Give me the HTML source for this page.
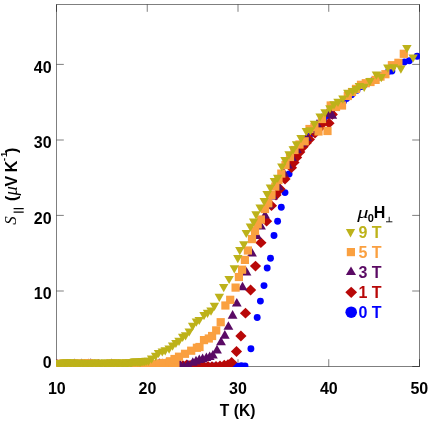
<!DOCTYPE html>
<html><head><meta charset="utf-8"><title>chart</title>
<style>
html,body{margin:0;padding:0;background:#fff;}
body{width:430px;height:421px;position:relative;overflow:hidden;font-family:"Liberation Sans",sans-serif;}
svg{display:block;will-change:transform}
</style></head><body>
<svg width="430" height="421" viewBox="0 0 430 421" style="position:absolute;left:0;top:0"><defs><clipPath id="c"><rect x="56" y="3.5" width="364" height="363.5"/></clipPath></defs><g stroke="#000" stroke-opacity="0.5" stroke-width="1" fill="none"><rect x="56.5" y="4.5" width="363.0" height="362.0"/><path d="M56.5 64.4h7.3"/><path d="M419.5 64.4h-7.3"/><path d="M56.5 140.0h7.3"/><path d="M419.5 140.0h-7.3"/><path d="M56.5 215.4h7.3"/><path d="M419.5 215.4h-7.3"/><path d="M56.5 291.0h7.3"/><path d="M419.5 291.0h-7.3"/><path d="M147.25 366.5v-7.3"/><path d="M147.25 4.5v7.3"/><path d="M238 366.5v-7.3"/><path d="M238 4.5v7.3"/><path d="M328.75 366.5v-7.3"/><path d="M328.75 4.5v7.3"/><path d="M56.5 366.5v-7.3"/><path d="M419.5 366.5v-7.3"/><path d="M56.5 366.5h7.3"/><path d="M419.5 366.5h-7.3"/><path d="M56.5 4.5v7.3"/><path d="M419.5 4.5v7.3"/></g><g clip-path="url(#c)"><g fill="#0000FF"><circle cx="57.4" cy="366.1" r="3.45"/><circle cx="61.1" cy="366.0" r="3.45"/><circle cx="64.5" cy="365.9" r="3.45"/><circle cx="68.3" cy="366.1" r="3.45"/><circle cx="71.9" cy="365.8" r="3.45"/><circle cx="75.6" cy="366.2" r="3.45"/><circle cx="79.2" cy="366.0" r="3.45"/><circle cx="82.8" cy="365.7" r="3.45"/><circle cx="86.3" cy="366.2" r="3.45"/><circle cx="89.9" cy="365.9" r="3.45"/><circle cx="93.7" cy="365.8" r="3.45"/><circle cx="97.0" cy="365.8" r="3.45"/><circle cx="100.8" cy="366.2" r="3.45"/><circle cx="104.6" cy="365.8" r="3.45"/><circle cx="108.2" cy="366.2" r="3.45"/><circle cx="111.5" cy="366.2" r="3.45"/><circle cx="115.0" cy="365.8" r="3.45"/><circle cx="118.8" cy="366.0" r="3.45"/><circle cx="122.4" cy="366.2" r="3.45"/><circle cx="125.9" cy="366.0" r="3.45"/><circle cx="129.4" cy="366.2" r="3.45"/><circle cx="133.1" cy="365.9" r="3.45"/><circle cx="136.4" cy="366.1" r="3.45"/><circle cx="140.2" cy="365.8" r="3.45"/><circle cx="143.7" cy="366.2" r="3.45"/><circle cx="147.6" cy="366.2" r="3.45"/><circle cx="151.4" cy="366.0" r="3.45"/><circle cx="154.5" cy="365.9" r="3.45"/><circle cx="158.0" cy="365.9" r="3.45"/><circle cx="162.0" cy="366.1" r="3.45"/><circle cx="165.4" cy="365.8" r="3.45"/><circle cx="169.1" cy="366.0" r="3.45"/><circle cx="172.4" cy="365.9" r="3.45"/><circle cx="176.1" cy="365.9" r="3.45"/><circle cx="180.0" cy="365.9" r="3.45"/><circle cx="183.6" cy="366.2" r="3.45"/><circle cx="187.3" cy="365.8" r="3.45"/><circle cx="191.0" cy="365.8" r="3.45"/><circle cx="194.2" cy="365.8" r="3.45"/><circle cx="198.0" cy="365.7" r="3.45"/><circle cx="201.5" cy="366.0" r="3.45"/><circle cx="205.1" cy="366.2" r="3.45"/><circle cx="208.6" cy="366.2" r="3.45"/><circle cx="212.6" cy="366.0" r="3.45"/><circle cx="216.0" cy="366.0" r="3.45"/><circle cx="219.3" cy="366.2" r="3.45"/><circle cx="223.2" cy="366.0" r="3.45"/><circle cx="227.0" cy="366.0" r="3.45"/><circle cx="230.5" cy="366.1" r="3.45"/><circle cx="233.9" cy="365.7" r="3.45"/><circle cx="237.2" cy="366.2" r="3.45"/><circle cx="241.3" cy="365.8" r="3.45"/><circle cx="245.0" cy="366.0" r="3.45"/><circle cx="250.9" cy="348.8" r="3.45"/><circle cx="257.2" cy="317.5" r="3.45"/><circle cx="260.4" cy="301.1" r="3.45"/><circle cx="264.0" cy="285.6" r="3.45"/><circle cx="267.2" cy="268.0" r="3.45"/><circle cx="270.5" cy="258.2" r="3.45"/><circle cx="274.0" cy="235.5" r="3.45"/><circle cx="277.6" cy="221.2" r="3.45"/><circle cx="281.3" cy="207.3" r="3.45"/><circle cx="285.0" cy="192.6" r="3.45"/><circle cx="289.1" cy="174.0" r="3.45"/><circle cx="291.5" cy="163.0" r="3.45"/><circle cx="295.5" cy="155.0" r="3.45"/><circle cx="299.5" cy="148.5" r="3.45"/><circle cx="303.5" cy="143.0" r="3.45"/><circle cx="307.5" cy="138.0" r="3.45"/><circle cx="311.5" cy="133.5" r="3.45"/><circle cx="315.0" cy="129.5" r="3.45"/><circle cx="319.3" cy="126.0" r="3.45"/><circle cx="323.5" cy="119.5" r="3.45"/><circle cx="327.5" cy="115.5" r="3.45"/><circle cx="331.5" cy="111.5" r="3.45"/><circle cx="335.5" cy="107.5" r="3.45"/><circle cx="339.5" cy="104.5" r="3.45"/><circle cx="343.5" cy="101.5" r="3.45"/><circle cx="346.6" cy="98.6" r="3.45"/><circle cx="351.6" cy="94.8" r="3.45"/><circle cx="357.0" cy="90.2" r="3.45"/><circle cx="361.5" cy="86.5" r="3.45"/><circle cx="365.3" cy="84.3" r="3.45"/><circle cx="369.2" cy="82.3" r="3.45"/><circle cx="373.2" cy="80.5" r="3.45"/><circle cx="377.0" cy="78.0" r="3.45"/><circle cx="381.0" cy="76.0" r="3.45"/><circle cx="385.0" cy="74.0" r="3.45"/><circle cx="388.5" cy="71.5" r="3.45"/><circle cx="391.9" cy="71.0" r="3.45"/><circle cx="404.4" cy="62.0" r="3.45"/><circle cx="409.3" cy="60.8" r="3.45"/><circle cx="417.1" cy="56.3" r="3.45"/></g>
<g fill="#B80808"><path d="M52.2 366.4L57.8 361.0L63.4 366.4L57.8 371.8z"/><path d="M55.6 366.1L61.2 360.7L66.8 366.1L61.2 371.5z"/><path d="M59.7 365.6L65.3 360.2L70.9 365.6L65.3 371.0z"/><path d="M63.3 364.8L68.9 359.4L74.5 364.8L68.9 370.2z"/><path d="M67.2 366.3L72.8 360.9L78.4 366.3L72.8 371.7z"/><path d="M70.7 365.3L76.3 359.9L81.9 365.3L76.3 370.7z"/><path d="M75.1 365.7L80.7 360.3L86.3 365.7L80.7 371.1z"/><path d="M78.7 364.9L84.3 359.5L89.9 364.9L84.3 370.3z"/><path d="M82.0 365.1L87.6 359.7L93.2 365.1L87.6 370.5z"/><path d="M86.1 365.2L91.7 359.8L97.3 365.2L91.7 370.6z"/><path d="M90.3 365.3L95.9 359.9L101.5 365.3L95.9 370.7z"/><path d="M93.3 364.6L98.9 359.2L104.5 364.6L98.9 370.0z"/><path d="M97.3 365.8L102.9 360.4L108.5 365.8L102.9 371.2z"/><path d="M101.5 364.9L107.1 359.5L112.7 364.9L107.1 370.3z"/><path d="M104.7 365.8L110.3 360.4L115.9 365.8L110.3 371.2z"/><path d="M109.1 365.8L114.7 360.4L120.3 365.8L114.7 371.2z"/><path d="M112.8 366.0L118.4 360.6L124.0 366.0L118.4 371.4z"/><path d="M116.7 365.2L122.3 359.8L127.9 365.2L122.3 370.6z"/><path d="M120.3 365.2L125.9 359.8L131.5 365.2L125.9 370.6z"/><path d="M124.5 366.1L130.1 360.7L135.7 366.1L130.1 371.5z"/><path d="M127.8 365.4L133.4 360.0L139.0 365.4L133.4 370.8z"/><path d="M131.8 364.9L137.4 359.5L143.0 364.9L137.4 370.3z"/><path d="M135.1 366.4L140.7 361.0L146.3 366.4L140.7 371.8z"/><path d="M139.3 364.7L144.9 359.3L150.5 364.7L144.9 370.1z"/><path d="M143.0 366.4L148.6 361.0L154.2 366.4L148.6 371.8z"/><path d="M147.3 365.3L152.9 359.9L158.5 365.3L152.9 370.7z"/><path d="M151.1 365.4L156.7 360.0L162.3 365.4L156.7 370.8z"/><path d="M154.2 366.6L159.8 361.2L165.4 366.6L159.8 372.0z"/><path d="M157.9 365.6L163.5 360.2L169.1 365.6L163.5 371.0z"/><path d="M161.8 366.1L167.4 360.7L173.0 366.1L167.4 371.5z"/><path d="M165.7 365.5L171.3 360.1L176.9 365.5L171.3 370.9z"/><path d="M169.9 366.6L175.5 361.2L181.1 366.6L175.5 372.0z"/><path d="M173.5 366.2L179.1 360.8L184.7 366.2L179.1 371.6z"/><path d="M177.3 365.7L182.9 360.3L188.5 365.7L182.9 371.1z"/><path d="M181.1 364.9L186.7 359.5L192.3 364.9L186.7 370.3z"/><path d="M184.5 365.5L190.1 360.1L195.7 365.5L190.1 370.9z"/><path d="M188.6 365.8L194.2 360.4L199.8 365.8L194.2 371.2z"/><path d="M194.4 366.2L200.0 360.8L205.6 366.2L200.0 371.6z"/><path d="M198.4 366.6L204.0 361.2L209.6 366.6L204.0 372.0z"/><path d="M202.4 366.4L208.0 361.0L213.6 366.4L208.0 371.8z"/><path d="M206.4 366.6L212.0 361.2L217.6 366.6L212.0 372.0z"/><path d="M210.4 366.4L216.0 361.0L221.6 366.4L216.0 371.8z"/><path d="M214.4 366.0L220.0 360.6L225.6 366.0L220.0 371.4z"/><path d="M218.7 365.2L224.3 359.8L229.9 365.2L224.3 370.6z"/><path d="M222.4 364.6L228.0 359.2L233.6 364.6L228.0 370.0z"/><path d="M226.0 362.5L231.6 357.1L237.2 362.5L231.6 367.9z"/><path d="M230.9 351.5L236.5 346.1L242.1 351.5L236.5 356.9z"/><path d="M235.3 336.0L240.9 330.6L246.5 336.0L240.9 341.4z"/><path d="M239.9 313.2L245.5 307.8L251.1 313.2L245.5 318.6z"/><path d="M245.0 290.0L250.6 284.6L256.2 290.0L250.6 295.4z"/><path d="M249.9 266.1L255.5 260.7L261.1 266.1L255.5 271.5z"/><path d="M255.3 242.7L260.9 237.3L266.5 242.7L260.9 248.1z"/><path d="M261.0 221.2L266.6 215.8L272.2 221.2L266.6 226.6z"/><path d="M265.9 205.7L271.5 200.3L277.1 205.7L271.5 211.1z"/><path d="M270.4 195.0L276.0 189.6L281.6 195.0L276.0 200.4z"/><path d="M274.4 189.0L280.0 183.6L285.6 189.0L280.0 194.4z"/><path d="M279.4 179.0L285.0 173.6L290.6 179.0L285.0 184.4z"/><path d="M285.9 167.7L291.5 162.3L297.1 167.7L291.5 173.1z"/><path d="M288.4 162.4L294.0 157.0L299.6 162.4L294.0 167.8z"/><path d="M291.0 157.4L296.6 152.0L302.2 157.4L296.6 162.8z"/><path d="M294.2 152.0L299.8 146.6L305.4 152.0L299.8 157.4z"/><path d="M297.4 146.8L303.0 141.4L308.6 146.8L303.0 152.2z"/><path d="M300.6 143.0L306.2 137.6L311.8 143.0L306.2 148.4z"/><path d="M303.8 139.4L309.4 134.0L315.0 139.4L309.4 144.8z"/><path d="M309.4 133.0L315.0 127.6L320.6 133.0L315.0 138.4z"/><path d="M313.4 128.5L319.0 123.1L324.6 128.5L319.0 133.9z"/><path d="M317.0 123.6L322.6 118.2L328.2 123.6L322.6 129.0z"/><path d="M323.4 123.2L329.0 117.8L334.6 123.2L329.0 128.6z"/><path d="M326.7 114.4L332.3 109.0L337.9 114.4L332.3 119.8z"/></g>
<g fill="#5A0A64"><path d="M52.1 367.3h9.8L57.0 358.7z"/><path d="M56.1 368.5h9.8L61.0 359.9z"/><path d="M59.5 368.4h9.8L64.4 359.8z"/><path d="M62.5 367.7h9.8L67.4 359.1z"/><path d="M66.1 367.8h9.8L71.0 359.2z"/><path d="M69.4 367.0h9.8L74.3 358.4z"/><path d="M72.7 368.2h9.8L77.6 359.6z"/><path d="M76.4 367.1h9.8L81.3 358.5z"/><path d="M79.2 367.8h9.8L84.1 359.2z"/><path d="M83.2 367.0h9.8L88.1 358.4z"/><path d="M85.9 366.9h9.8L90.8 358.3z"/><path d="M90.0 367.9h9.8L94.9 359.3z"/><path d="M93.2 367.7h9.8L98.1 359.1z"/><path d="M96.5 368.0h9.8L101.4 359.4z"/><path d="M100.0 368.2h9.8L104.9 359.6z"/><path d="M103.3 368.6h9.8L108.2 360.0z"/><path d="M106.9 367.0h9.8L111.8 358.4z"/><path d="M109.8 367.9h9.8L114.7 359.3z"/><path d="M113.5 367.8h9.8L118.4 359.2z"/><path d="M117.2 368.0h9.8L122.1 359.4z"/><path d="M120.6 367.8h9.8L125.5 359.2z"/><path d="M123.5 367.8h9.8L128.4 359.2z"/><path d="M126.9 368.4h9.8L131.8 359.8z"/><path d="M130.8 367.6h9.8L135.7 359.0z"/><path d="M133.8 367.8h9.8L138.7 359.2z"/><path d="M136.9 368.0h9.8L141.8 359.4z"/><path d="M140.9 367.0h9.8L145.8 358.4z"/><path d="M144.0 367.6h9.8L148.9 359.0z"/><path d="M147.7 367.0h9.8L152.6 358.4z"/><path d="M150.9 367.0h9.8L155.8 358.4z"/><path d="M154.3 366.8h9.8L159.2 358.2z"/><path d="M157.6 367.2h9.8L162.5 358.6z"/><path d="M160.9 367.2h9.8L165.8 358.6z"/><path d="M164.8 367.7h9.8L169.7 359.1z"/><path d="M168.0 367.8h9.8L172.9 359.2z"/><path d="M171.5 368.3h9.8L176.4 359.7z"/><path d="M175.0 367.7h9.8L179.9 359.1z"/><path d="M179.0 369.5h9.8L183.9 360.9z"/><path d="M183.0 368.1h9.8L187.9 359.5z"/><path d="M187.9 365.8h9.8L192.8 357.2z"/><path d="M191.1 364.4h9.8L196.0 355.8z"/><path d="M194.4 363.1h9.8L199.3 354.5z"/><path d="M197.7 362.2h9.8L202.6 353.6z"/><path d="M201.5 361.1h9.8L206.4 352.5z"/><path d="M204.8 360.1h9.8L209.7 351.5z"/><path d="M208.0 358.5h9.8L212.9 349.9z"/><path d="M212.1 353.4h9.8L217.0 344.8z"/><path d="M216.1 345.3h9.8L221.0 336.7z"/><path d="M219.9 338.7h9.8L224.8 330.1z"/><path d="M223.5 329.8h9.8L228.4 321.2z"/><path d="M227.7 318.7h9.8L232.6 310.1z"/><path d="M231.9 306.5h9.8L236.8 297.9z"/><path d="M237.6 290.3h9.8L242.5 281.7z"/><path d="M241.6 275.6h9.8L246.5 267.0z"/><path d="M247.1 256.5h9.8L252.0 247.9z"/><path d="M252.0 239.0h9.8L256.9 230.4z"/><path d="M256.1 229.5h9.8L261.0 220.9z"/><path d="M260.1 218.5h9.8L265.0 209.9z"/><path d="M264.1 208.5h9.8L269.0 199.9z"/><path d="M268.1 199.5h9.8L273.0 190.9z"/><path d="M274.0 190.1h9.8L278.9 181.5z"/><path d="M279.1 176.5h9.8L284.0 167.9z"/><path d="M283.1 168.5h9.8L288.0 159.9z"/><path d="M287.1 161.0h9.8L292.0 152.4z"/><path d="M292.1 153.0h9.8L297.0 144.4z"/><path d="M297.1 146.5h9.8L302.0 137.9z"/><path d="M302.1 141.0h9.8L307.0 132.4z"/><path d="M307.1 133.5h9.8L312.0 124.9z"/><path d="M312.1 127.5h9.8L317.0 118.9z"/><path d="M317.1 121.5h9.8L322.0 112.9z"/><path d="M322.1 117.0h9.8L327.0 108.4z"/><path d="M327.4 118.7h9.8L332.3 110.1z"/></g>
<g fill="#FAA040"><rect x="53.7" y="359.7" width="8.2" height="8.2"/><rect x="56.4" y="360.1" width="8.2" height="8.2"/><rect x="59.4" y="359.4" width="8.2" height="8.2"/><rect x="62.6" y="359.6" width="8.2" height="8.2"/><rect x="65.8" y="360.3" width="8.2" height="8.2"/><rect x="68.6" y="359.4" width="8.2" height="8.2"/><rect x="72.3" y="359.5" width="8.2" height="8.2"/><rect x="75.1" y="359.5" width="8.2" height="8.2"/><rect x="78.4" y="359.9" width="8.2" height="8.2"/><rect x="81.1" y="359.2" width="8.2" height="8.2"/><rect x="84.8" y="359.2" width="8.2" height="8.2"/><rect x="87.7" y="359.8" width="8.2" height="8.2"/><rect x="90.5" y="359.4" width="8.2" height="8.2"/><rect x="94.1" y="360.2" width="8.2" height="8.2"/><rect x="97.0" y="360.3" width="8.2" height="8.2"/><rect x="100.2" y="360.0" width="8.2" height="8.2"/><rect x="102.6" y="360.2" width="8.2" height="8.2"/><rect x="105.7" y="359.7" width="8.2" height="8.2"/><rect x="109.4" y="359.3" width="8.2" height="8.2"/><rect x="112.1" y="359.8" width="8.2" height="8.2"/><rect x="115.4" y="359.7" width="8.2" height="8.2"/><rect x="118.2" y="360.0" width="8.2" height="8.2"/><rect x="122.0" y="359.4" width="8.2" height="8.2"/><rect x="124.7" y="359.5" width="8.2" height="8.2"/><rect x="128.1" y="360.3" width="8.2" height="8.2"/><rect x="130.6" y="359.6" width="8.2" height="8.2"/><rect x="134.0" y="359.8" width="8.2" height="8.2"/><rect x="136.7" y="360.5" width="8.2" height="8.2"/><rect x="140.5" y="359.6" width="8.2" height="8.2"/><rect x="143.3" y="359.4" width="8.2" height="8.2"/><rect x="146.1" y="360.2" width="8.2" height="8.2"/><rect x="149.2" y="360.0" width="8.2" height="8.2"/><rect x="152.6" y="360.1" width="8.2" height="8.2"/><rect x="155.4" y="359.3" width="8.2" height="8.2"/><rect x="158.5" y="359.9" width="8.2" height="8.2"/><rect x="161.8" y="359.4" width="8.2" height="8.2"/><rect x="165.0" y="359.8" width="8.2" height="8.2"/><rect x="168.2" y="360.6" width="8.2" height="8.2"/><rect x="171.3" y="359.8" width="8.2" height="8.2"/><rect x="159.9" y="358.9" width="8.2" height="8.2"/><rect x="165.9" y="357.2" width="8.2" height="8.2"/><rect x="170.4" y="354.9" width="8.2" height="8.2"/><rect x="174.9" y="352.6" width="8.2" height="8.2"/><rect x="180.9" y="349.7" width="8.2" height="8.2"/><rect x="187.1" y="346.6" width="8.2" height="8.2"/><rect x="192.8" y="343.7" width="8.2" height="8.2"/><rect x="195.4" y="342.9" width="8.2" height="8.2"/><rect x="199.9" y="336.0" width="8.2" height="8.2"/><rect x="204.7" y="334.4" width="8.2" height="8.2"/><rect x="208.0" y="331.9" width="8.2" height="8.2"/><rect x="212.1" y="326.3" width="8.2" height="8.2"/><rect x="216.6" y="318.1" width="8.2" height="8.2"/><rect x="221.3" y="301.4" width="8.2" height="8.2"/><rect x="226.1" y="295.7" width="8.2" height="8.2"/><rect x="231.5" y="283.5" width="8.2" height="8.2"/><rect x="234.8" y="272.9" width="8.2" height="8.2"/><rect x="238.0" y="265.6" width="8.2" height="8.2"/><rect x="240.8" y="255.8" width="8.2" height="8.2"/><rect x="243.8" y="246.4" width="8.2" height="8.2"/><rect x="247.9" y="235.0" width="8.2" height="8.2"/><rect x="250.9" y="226.9" width="8.2" height="8.2"/><rect x="253.6" y="220.3" width="8.2" height="8.2"/><rect x="256.8" y="215.4" width="8.2" height="8.2"/><rect x="260.9" y="204.9" width="8.2" height="8.2"/><rect x="264.2" y="199.2" width="8.2" height="8.2"/><rect x="267.4" y="190.9" width="8.2" height="8.2"/><rect x="271.2" y="182.5" width="8.2" height="8.2"/><rect x="274.4" y="175.9" width="8.2" height="8.2"/><rect x="277.2" y="169.5" width="8.2" height="8.2"/><rect x="281.4" y="160.9" width="8.2" height="8.2"/><rect x="285.9" y="152.9" width="8.2" height="8.2"/><rect x="290.4" y="145.9" width="8.2" height="8.2"/><rect x="295.4" y="140.4" width="8.2" height="8.2"/><rect x="300.6" y="137.2" width="8.2" height="8.2"/><rect x="305.4" y="124.9" width="8.2" height="8.2"/><rect x="310.3" y="122.9" width="8.2" height="8.2"/><rect x="314.4" y="127.4" width="8.2" height="8.2"/><rect x="323.4" y="126.9" width="8.2" height="8.2"/><rect x="317.9" y="114.9" width="8.2" height="8.2"/><rect x="326.6" y="101.4" width="8.2" height="8.2"/><rect x="331.9" y="102.9" width="8.2" height="8.2"/><rect x="337.9" y="101.4" width="8.2" height="8.2"/><rect x="343.7" y="91.9" width="8.2" height="8.2"/><rect x="347.9" y="87.9" width="8.2" height="8.2"/><rect x="351.9" y="84.8" width="8.2" height="8.2"/><rect x="356.9" y="80.7" width="8.2" height="8.2"/><rect x="361.7" y="79.1" width="8.2" height="8.2"/><rect x="366.4" y="77.9" width="8.2" height="8.2"/><rect x="371.5" y="75.8" width="8.2" height="8.2"/><rect x="376.4" y="72.5" width="8.2" height="8.2"/><rect x="381.3" y="70.1" width="8.2" height="8.2"/><rect x="387.8" y="61.1" width="8.2" height="8.2"/><rect x="394.3" y="58.7" width="8.2" height="8.2"/><rect x="399.7" y="49.7" width="8.2" height="8.2"/></g>
<g fill="#BDB21A"><path d="M52.8 359.9h9.4L57.5 368.1z"/><path d="M54.2 360.0h9.4L58.9 368.2z"/><path d="M55.3 360.0h9.4L60.0 368.2z"/><path d="M56.7 360.0h9.4L61.4 368.2z"/><path d="M58.2 359.8h9.4L62.9 368.0z"/><path d="M59.5 359.8h9.4L64.2 368.0z"/><path d="M60.5 359.6h9.4L65.2 367.8z"/><path d="M61.8 359.6h9.4L66.5 367.8z"/><path d="M63.0 359.7h9.4L67.7 367.9z"/><path d="M64.5 359.7h9.4L69.2 367.9z"/><path d="M65.6 359.6h9.4L70.3 367.8z"/><path d="M67.1 359.7h9.4L71.8 367.9z"/><path d="M68.5 359.8h9.4L73.2 368.0z"/><path d="M69.6 359.7h9.4L74.3 367.9z"/><path d="M71.1 360.0h9.4L75.8 368.2z"/><path d="M72.3 359.9h9.4L77.0 368.1z"/><path d="M73.4 359.8h9.4L78.1 368.0z"/><path d="M74.9 359.9h9.4L79.6 368.1z"/><path d="M76.1 359.7h9.4L80.8 367.9z"/><path d="M77.5 360.0h9.4L82.2 368.2z"/><path d="M78.7 359.9h9.4L83.4 368.1z"/><path d="M80.2 359.9h9.4L84.9 368.1z"/><path d="M81.4 359.8h9.4L86.1 368.0z"/><path d="M82.6 359.9h9.4L87.3 368.1z"/><path d="M84.0 359.9h9.4L88.7 368.1z"/><path d="M85.4 359.9h9.4L90.1 368.1z"/><path d="M86.5 360.0h9.4L91.2 368.2z"/><path d="M87.8 359.9h9.4L92.5 368.1z"/><path d="M89.2 359.7h9.4L93.9 367.9z"/><path d="M90.7 359.8h9.4L95.4 368.0z"/><path d="M92.0 359.7h9.4L96.7 367.9z"/><path d="M93.2 359.7h9.4L97.9 367.9z"/><path d="M94.6 359.9h9.4L99.3 368.1z"/><path d="M95.8 359.9h9.4L100.5 368.1z"/><path d="M97.0 360.0h9.4L101.7 368.2z"/><path d="M98.1 359.9h9.4L102.8 368.1z"/><path d="M99.7 359.8h9.4L104.4 368.0z"/><path d="M100.9 359.6h9.4L105.6 367.8z"/><path d="M102.1 359.8h9.4L106.8 368.0z"/><path d="M103.4 360.0h9.4L108.1 368.2z"/><path d="M104.8 359.9h9.4L109.5 368.1z"/><path d="M106.1 359.8h9.4L110.8 368.0z"/><path d="M107.3 359.8h9.4L112.0 368.0z"/><path d="M108.6 359.7h9.4L113.3 367.9z"/><path d="M110.0 359.7h9.4L114.7 367.9z"/><path d="M111.4 359.6h9.4L116.1 367.8z"/><path d="M112.6 360.0h9.4L117.3 368.2z"/><path d="M113.8 359.9h9.4L118.5 368.1z"/><path d="M115.1 359.7h9.4L119.8 367.9z"/><path d="M116.5 359.8h9.4L121.2 368.0z"/><path d="M117.7 359.6h9.4L122.4 367.8z"/><path d="M119.0 359.7h9.4L123.7 367.9z"/><path d="M120.4 359.9h9.4L125.1 368.1z"/><path d="M121.5 359.9h9.4L126.2 368.1z"/><path d="M123.0 359.8h9.4L127.7 368.0z"/><path d="M124.2 359.6h9.4L128.9 367.8z"/><path d="M125.7 359.5h9.4L130.4 367.7z"/><path d="M127.0 359.4h9.4L131.7 367.6z"/><path d="M128.3 358.9h9.4L133.0 367.1z"/><path d="M129.6 358.6h9.4L134.3 366.8z"/><path d="M130.7 358.6h9.4L135.4 366.8z"/><path d="M132.2 358.6h9.4L136.9 366.8z"/><path d="M133.3 358.9h9.4L138.0 367.1z"/><path d="M134.7 358.7h9.4L139.4 366.9z"/><path d="M135.9 358.7h9.4L140.6 366.9z"/><path d="M137.3 358.2h9.4L142.0 366.4z"/><path d="M138.4 358.1h9.4L143.1 366.3z"/><path d="M139.8 358.0h9.4L144.5 366.2z"/><path d="M141.4 357.8h9.4L146.1 366.0z"/><path d="M143.7 357.8h9.4L148.4 366.0z"/><path d="M146.9 355.6h9.4L151.6 363.8z"/><path d="M150.9 352.8h9.4L155.6 361.0z"/><path d="M153.8 349.9h9.4L158.5 358.1z"/><path d="M157.6 348.4h9.4L162.3 356.6z"/><path d="M160.5 347.3h9.4L165.2 355.5z"/><path d="M164.4 345.6h9.4L169.1 353.8z"/><path d="M167.9 342.6h9.4L172.6 350.8z"/><path d="M171.2 339.9h9.4L175.9 348.1z"/><path d="M174.3 337.8h9.4L179.0 346.0z"/><path d="M178.0 333.7h9.4L182.7 341.9z"/><path d="M180.9 332.3h9.4L185.6 340.5z"/><path d="M184.5 328.4h9.4L189.2 336.6z"/><path d="M187.9 322.7h9.4L192.6 330.9z"/><path d="M191.7 318.5h9.4L196.4 326.7z"/><path d="M194.5 316.9h9.4L199.2 325.1z"/><path d="M199.3 312.0h9.4L204.0 320.2z"/><path d="M202.8 309.8h9.4L207.5 318.0z"/><path d="M206.3 307.5h9.4L211.0 315.7z"/><path d="M209.7 302.8h9.4L214.4 311.0z"/><path d="M214.6 293.8h9.4L219.3 302.0z"/><path d="M219.0 284.1h9.4L223.7 292.3z"/><path d="M224.4 275.9h9.4L229.1 284.1z"/><path d="M229.6 265.3h9.4L234.3 273.5z"/><path d="M233.1 255.1h9.4L237.8 263.3z"/><path d="M235.1 247.0h9.4L239.8 255.2z"/><path d="M239.1 241.3h9.4L243.8 249.5z"/><path d="M241.6 229.9h9.4L246.3 238.1z"/><path d="M245.7 223.5h9.4L250.4 231.7z"/><path d="M248.9 218.5h9.4L253.6 226.7z"/><path d="M251.3 211.2h9.4L256.0 219.4z"/><path d="M255.4 204.6h9.4L260.1 212.8z"/><path d="M259.5 198.1h9.4L264.2 206.3z"/><path d="M262.4 191.1h9.4L267.1 199.3z"/><path d="M265.7 184.5h9.4L270.4 192.7z"/><path d="M269.7 178.0h9.4L274.4 186.2z"/><path d="M273.0 174.8h9.4L277.7 183.0z"/><path d="M277.1 163.4h9.4L281.8 171.6z"/><path d="M280.3 157.0h9.4L285.0 165.2z"/><path d="M284.4 151.2h9.4L289.1 159.4z"/><path d="M288.5 146.3h9.4L293.2 154.5z"/><path d="M291.8 141.2h9.4L296.5 149.4z"/><path d="M296.3 135.0h9.4L301.0 143.2z"/><path d="M301.6 128.0h9.4L306.3 136.2z"/><path d="M305.7 127.2h9.4L310.4 135.4z"/><path d="M309.7 120.7h9.4L314.4 128.9z"/><path d="M315.4 113.4h9.4L320.1 121.6z"/><path d="M320.3 109.3h9.4L325.0 117.5z"/><path d="M325.2 105.2h9.4L329.9 113.4z"/><path d="M329.3 101.2h9.4L334.0 109.4z"/><path d="M333.3 98.7h9.4L338.0 106.9z"/><path d="M338.2 95.5h9.4L342.9 103.7z"/><path d="M343.1 89.8h9.4L347.8 98.0z"/><path d="M348.0 88.1h9.4L352.7 96.3z"/><path d="M351.6 86.0h9.4L356.3 94.2z"/><path d="M354.6 82.9h9.4L359.3 91.1z"/><path d="M359.5 83.7h9.4L364.2 91.9z"/><path d="M365.2 78.0h9.4L369.9 86.2z"/><path d="M371.7 71.5h9.4L376.4 79.7z"/><path d="M376.6 74.0h9.4L381.3 82.2z"/><path d="M383.1 64.5h9.4L387.8 72.7z"/><path d="M388.8 64.2h9.4L393.5 72.4z"/><path d="M396.2 65.5h9.4L400.9 73.7z"/><path d="M408.4 54.4h9.4L413.1 62.6z"/><path d="M402.2 45.0h9.4L406.9 53.2z"/></g>
</g><g fill="#BDB21A"><path d="M345.9 229.0h9.2L350.5 237.4z"/></g><g fill="#FAA040"><rect x="346.8" y="248.0" width="8.2" height="8.2"/></g><g fill="#5A0A64"><path d="M345.9 274.9h10.1L351.0 266.5z"/></g><g fill="#B80808"><path d="M345.3 292.3L351.2 286.7L357.1 292.3L351.2 297.9z"/></g><g fill="#0000FF"><circle cx="351.2" cy="312.2" r="5.8"/></g><g font-family="Liberation Sans, sans-serif" font-weight="bold"><text x="51.6" y="72.8" font-size="16" text-anchor="end" fill="#000" >40</text><text x="51.6" y="148.4" font-size="16" text-anchor="end" fill="#000" >30</text><text x="51.6" y="223.8" font-size="16" text-anchor="end" fill="#000" >20</text><text x="51.6" y="299.4" font-size="16" text-anchor="end" fill="#000" >10</text><text x="51.6" y="367.6" font-size="16" text-anchor="end" fill="#000" >0</text><text x="56.8" y="393.5" font-size="16" text-anchor="middle" fill="#000" >10</text><text x="147.4" y="393.5" font-size="16" text-anchor="middle" fill="#000" >20</text><text x="238" y="393.5" font-size="16" text-anchor="middle" fill="#000" >30</text><text x="328.8" y="393.5" font-size="16" text-anchor="middle" fill="#000" >40</text><text x="419.3" y="393.5" font-size="16" text-anchor="middle" fill="#000" >50</text><text x="237.6" y="416.4" font-size="15.6" text-anchor="middle" fill="#000" >T (K)</text><text x="358.4" y="238.2" font-size="16" text-anchor="start" fill="#BDB21A" >9 T</text><text x="358.4" y="258.3" font-size="16" text-anchor="start" fill="#FAA040" >5 T</text><text x="358.4" y="278.2" font-size="16" text-anchor="start" fill="#5A0A64" >3 T</text><text x="358.4" y="298.3" font-size="16" text-anchor="start" fill="#B80808" >1 T</text><text x="358.4" y="318.2" font-size="16" text-anchor="start" fill="#0000FF" >0 T</text><text transform="translate(357.2 218.1) scale(1.22 0.89)" font-family="Liberation Serif, serif" font-style="italic" font-weight="normal" font-size="18.5">&#956;</text><text x="367.7" y="222.4" font-size="11" text-anchor="start" fill="#000" >0</text><text x="373.7" y="218.2" font-size="16" text-anchor="start" fill="#000" >H</text><path d="M386 221.8h6.4M389.2 221.8v-5" stroke="#000" stroke-width="0.9" fill="none"/><text transform="translate(16.4 224.8) rotate(-90)" font-size="17" font-family="Liberation Serif, serif" font-style="italic" font-weight="normal">S</text><path d="M13.6 208.7h10.1M13.6 212.2h10.1" stroke="#000" stroke-width="1.2" fill="none"/><text transform="translate(16.6 201.0) rotate(-90)" font-size="16" >(</text><text transform="translate(16.6 195.4) rotate(-90)" font-size="18.5" font-family="Liberation Serif, serif" font-style="italic" font-weight="normal">&#956;</text><text transform="translate(16.6 186.4) rotate(-90)" font-size="16" >V</text><text transform="translate(16.6 172.2) rotate(-90)" font-size="16" >K</text><text transform="translate(7.3 161.0) rotate(-90)" font-size="9.5" >-</text><text transform="translate(7.3 156.9) rotate(-90)" font-size="9.5" >1</text><text transform="translate(16.6 153.0) rotate(-90)" font-size="16" >)</text></g></svg>
</body></html>
